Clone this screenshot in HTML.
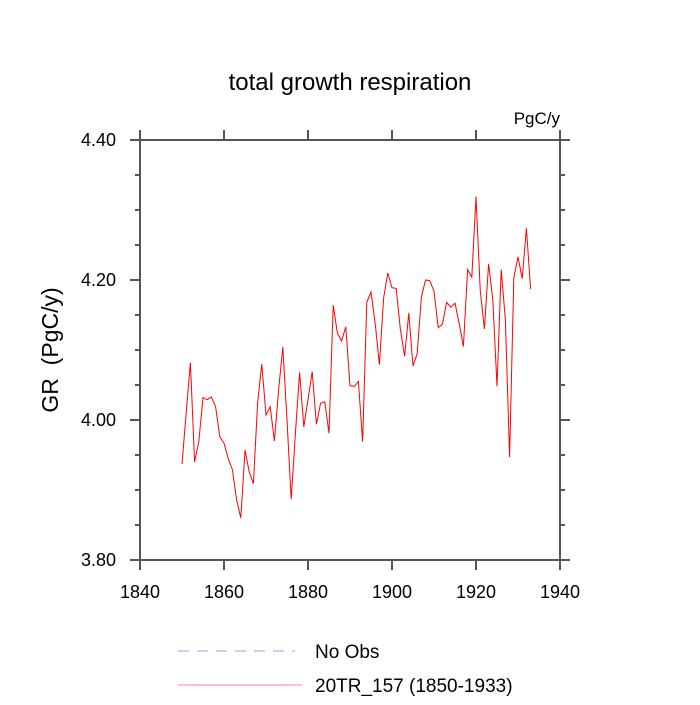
<!DOCTYPE html>
<html><head><meta charset="utf-8"><style>
body{margin:0;background:#fff}
svg text{font-family:"Liberation Sans",sans-serif;fill:#000}
</style></head><body>
<svg id="chart" width="700" height="700" xmlns="http://www.w3.org/2000/svg">
<text x="350" y="90" font-size="24" text-anchor="middle">total growth respiration</text>
<text x="560" y="124" font-size="17" text-anchor="end">PgC/y</text>
<text transform="translate(58,350) rotate(-90)" font-size="23" text-anchor="middle" xml:space="preserve">GR  (PgC/y)</text>
<g id="axes"></g>
<g id="series"></g>
<g>
<line x1="178" y1="651" x2="295" y2="651" stroke="#9999ff" stroke-width="1" stroke-dasharray="11,8"/>
<text x="315" y="658" font-size="19">No Obs</text>
<line x1="178" y1="685" x2="302" y2="685" stroke="#ff8080" stroke-width="1"/>
<text x="315" y="692" font-size="19">20TR_157 (1850-1933)</text>
</g>
</svg>
<script>
const startYear = 1850;
const grValues = [3.937,4.010,4.082,3.940,3.969,4.032,4.029,4.033,4.019,3.976,
3.967,3.945,3.929,3.886,3.860,3.957,3.926,3.909,4.024,4.080,
4.007,4.019,3.970,4.043,4.104,4.000,3.887,3.981,4.068,3.990,
4.029,4.069,3.994,4.024,4.026,3.981,4.164,4.124,4.113,4.133,
4.049,4.048,4.055,3.969,4.168,4.183,4.138,4.079,4.174,4.210,
4.189,4.188,4.129,4.091,4.153,4.077,4.095,4.176,4.200,4.199,
4.184,4.132,4.137,4.168,4.161,4.167,4.138,4.105,4.215,4.204,
4.319,4.186,4.130,4.223,4.172,4.048,4.215,4.143,3.947,4.203,
4.233,4.202,4.274,4.187];
const xTicks = [1840,1860,1880,1900,1920,1940];
const yTicks = [3.80,4.00,4.20,4.40];
const yMinorTicks = [3.85,3.90,3.95,4.05,4.10,4.15,4.25,4.30,4.35];

const L=140,R=560,T=140,B=560,X0=1840,X1=1940,Y0=3.80,Y1=4.40;
const x=v=>L+(v-X0)/(X1-X0)*(R-L);
const y=v=>B-(v-Y0)/(Y1-Y0)*(B-T);
const NS="http://www.w3.org/2000/svg";
function mk(tag,attrs,parent){const e=document.createElementNS(NS,tag);for(const k in attrs)e.setAttribute(k,attrs[k]);parent.appendChild(e);return e;}
const ax=document.getElementById('axes');
const st={stroke:"#555","stroke-width":2,fill:"none"};
const frame=mk('rect',Object.assign({x:L,y:T,width:R-L,height:B-T},st),ax);


xTicks.forEach(t=>{
  const a=mk('line',Object.assign({x1:x(t),x2:x(t),y1:B,y2:B+10},st),ax);
  
  
  const b=mk('line',Object.assign({x1:x(t),x2:x(t),y1:T,y2:T-10},st),ax);
  
  
  const lb=mk('text',{x:x(t),y:B+38,"font-size":18,"text-anchor":"middle"},ax);
  lb.textContent=t;
  
  
});
yTicks.forEach(t=>{
  const a=mk('line',Object.assign({x1:L-10,x2:L,y1:y(t),y2:y(t)},st),ax);
  
  
  const b=mk('line',Object.assign({x1:R,x2:R+10,y1:y(t),y2:y(t)},st),ax);
  
  
  const lb=mk('text',{x:L-24,y:y(t)+6,"font-size":18,"text-anchor":"end"},ax);
  lb.textContent=t.toFixed(2);
  
  
});
yMinorTicks.forEach(t=>{
  const a=mk('line',Object.assign({x1:L-5,x2:L,y1:y(t),y2:y(t)},st),ax);
  
  
  const b=mk('line',Object.assign({x1:R,x2:R+5,y1:y(t),y2:y(t)},st),ax);
  
  
});
const pts=grValues.map((v,i)=>x(startYear+i).toFixed(2)+","+y(v).toFixed(2)).join(" ");
const line=mk('polyline',{points:pts,fill:"none",stroke:"#ff0000","stroke-width":1},document.getElementById('series'));


</script>
</body></html>
